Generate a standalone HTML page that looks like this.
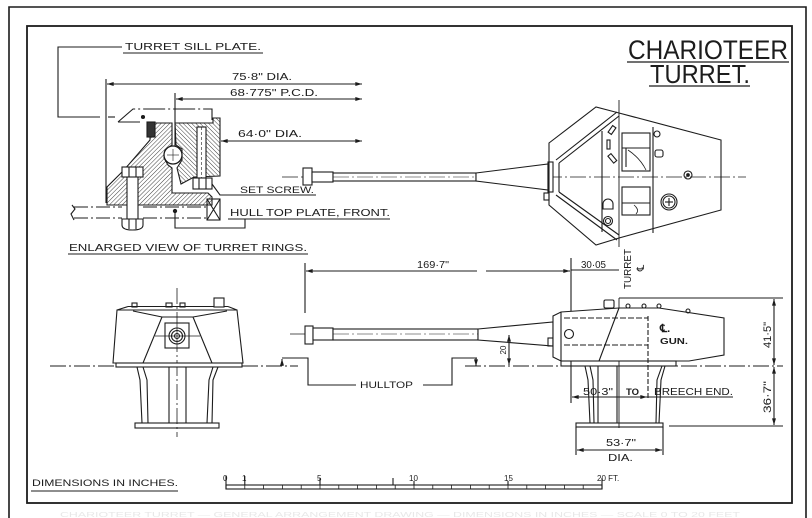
<!DOCTYPE html>
<html><head><meta charset="utf-8"><style>
html,body{margin:0;padding:0;background:#fff;}
svg{display:block;}
text{font-family:"Liberation Sans",sans-serif;fill:#1c1c1c;}
</style></head><body>
<svg width="812" height="518" viewBox="0 0 812 518" xmlns="http://www.w3.org/2000/svg">
<defs>
<marker id="a" viewBox="0 0 10 6" refX="10" refY="3" markerWidth="8" markerHeight="4" markerUnits="userSpaceOnUse" orient="auto-start-reverse"><path d="M0,0 L10,3 L0,6 z" fill="#1c1c1c"/></marker>
<pattern id="h" width="3" height="3" patternUnits="userSpaceOnUse" patternTransform="rotate(45)"><line x1="0" y1="0" x2="0" y2="3" stroke="#2a2a2a" stroke-width="0.9"/></pattern>
<pattern id="h2" width="3" height="3" patternUnits="userSpaceOnUse" patternTransform="rotate(-45)"><line x1="0" y1="0" x2="0" y2="3" stroke="#2a2a2a" stroke-width="0.9"/></pattern>
</defs>
<rect width="812" height="518" fill="#fff"/>
<g fill="none" stroke="#1c1c1c" stroke-width="1.1">
<!-- borders -->
<polyline points="9,520 9,7 806,7 806,520" stroke-width="1.6"/>
<rect x="27" y="26" width="765" height="477" stroke-width="1.8"/>

<!-- ===== Enlarged view of turret rings ===== -->
<polyline points="122,47 58,47 58,117 100,117"/>
<line x1="108" y1="117" x2="115" y2="117"/>
<polyline points="118,122 133,109 212,109 212,120" stroke-dasharray="22 3 2 3"/>
<line x1="118" y1="122" x2="140" y2="122"/>
<circle cx="143" cy="117" r="1.5" fill="#1c1c1c"/>
<line x1="106" y1="79" x2="106" y2="203"/>
<line x1="107" y1="84" x2="362" y2="84" marker-start="url(#a)" marker-end="url(#a)"/>
<line x1="175" y1="93" x2="175" y2="146"/>
<line x1="176" y1="99" x2="362" y2="99" marker-start="url(#a)" marker-end="url(#a)"/>
<line x1="221" y1="141" x2="362" y2="141" marker-start="url(#a)" marker-end="url(#a)"/>
<!-- lower ring -->
<polygon points="107,205 107,187 124,170 150,140 150,123 172,123 172,145 165,150 164,158 168,165 172,168 172,193 208,193 212,197 212,205" fill="url(#h)"/>
<rect x="147" y="122" width="8" height="15" fill="#333"/>
<!-- upper ring -->
<polygon points="175,123 213,123 213,118 220,118 220,176 194,177 181,184 177,168 182,160 182,149 176,145" fill="url(#h2)"/>
<rect x="197" y="127" width="9" height="51" fill="#fff"/>
<line x1="201.5" y1="127" x2="201.5" y2="178" stroke-dasharray="3 2" stroke-width="0.6"/>
<rect x="193" y="178" width="19" height="11" fill="#fff"/>
<line x1="199" y1="178" x2="199" y2="189"/><line x1="206" y1="178" x2="206" y2="189"/>
<polyline points="212,184 220,195 316,195" />
<!-- ball -->
<circle cx="173" cy="155" r="9" fill="#fff" stroke-width="1.3"/>
<line x1="167" y1="155" x2="179" y2="155" stroke-width="0.6"/><line x1="173" y1="149" x2="173" y2="161" stroke-width="0.6"/>
<!-- left bolt -->
<rect x="127" y="175" width="11" height="44" fill="#fff"/>
<rect x="122" y="167" width="21" height="10" fill="#fff"/>
<line x1="129" y1="167" x2="129" y2="177"/><line x1="136" y1="167" x2="136" y2="177"/>
<path d="M122,219 L143,219 L143,225 Q143,230 132.5,230 Q122,230 122,225 Z" fill="#fff"/>
<line x1="129" y1="219" x2="129" y2="229"/><line x1="136" y1="219" x2="136" y2="229"/>
<!-- hull plate -->
<line x1="74" y1="207" x2="122" y2="207" stroke-dasharray="14 3 2 3"/>
<line x1="143" y1="207" x2="207" y2="207" stroke-dasharray="14 3 2 3"/>
<line x1="74" y1="218" x2="122" y2="218" stroke-dasharray="14 3 2 3"/>
<line x1="143" y1="218" x2="207" y2="218" stroke-dasharray="14 3 2 3"/>
<polyline points="72,205 75,209 71,214 74,220"/>
<rect x="207" y="199" width="13" height="21"/>
<line x1="207" y1="199" x2="220" y2="220"/><line x1="220" y1="199" x2="207" y2="220"/>
<circle cx="175" cy="211" r="1.6" fill="#1c1c1c"/>
<polyline points="175,211 175,228 245,228 245,219"/>
<line x1="228" y1="219" x2="390" y2="219"/>
<line x1="68" y1="254" x2="308" y2="254"/>
<line x1="123" y1="53" x2="263" y2="53"/>

<!-- ===== Top view ===== -->
<line x1="282" y1="177" x2="746" y2="177" stroke-dasharray="16 3 2 3" stroke-width="0.7"/>
<rect x="303" y="168" width="9" height="17" fill="#fff"/>
<rect x="312" y="172" width="21" height="10" fill="#fff"/>
<rect x="333" y="173" width="143" height="8" fill="#fff"/>
<line x1="333" y1="177" x2="476" y2="177" stroke-dasharray="16 3 2 3" stroke-width="0.6"/>
<polygon points="476,173 548,164 548,190 476,181" fill="#fff"/>
<rect x="548" y="162" width="5" height="30" fill="#fff"/>
<rect x="544" y="193" width="5" height="7"/>
<!-- turret top outline -->
<polygon points="549,143 596,107 619,113 721,140 721,210 619,238 596,245 549,205"/>
<polyline points="559,163 619,116"/><polyline points="556,160 617,112"/>
<polyline points="559,192 619,235"/><polyline points="556,195 617,240"/>
<line x1="559" y1="163" x2="559" y2="192"/>
<line x1="619" y1="100" x2="619" y2="247" stroke-width="0.9"/>
<line x1="619" y1="298" x2="619" y2="428" stroke-width="0.9"/>
<line x1="602" y1="131" x2="602" y2="232"/>
<line x1="653" y1="127" x2="653" y2="233"/>
<rect x="622" y="133" width="28" height="38"/>
<line x1="622" y1="148" x2="650" y2="148"/><line x1="626" y1="148" x2="626" y2="167"/>
<path d="M628,150 Q640,158 646,170" stroke-width="0.8"/>
<rect x="622" y="187" width="28" height="28"/>
<line x1="622" y1="203" x2="650" y2="203"/>
<path d="M634,205 Q640,210 636,214" stroke-width="0.8"/>
<circle cx="657" cy="134" r="3"/>
<rect x="655" y="150" width="8" height="7" rx="2"/>
<circle cx="688" cy="175" r="4"/><circle cx="688" cy="175" r="1.3" fill="#1c1c1c"/>
<circle cx="669" cy="202" r="8"/><circle cx="669" cy="202" r="6"/>
<line x1="665" y1="202" x2="673" y2="202"/><line x1="669" y1="198" x2="669" y2="206"/>
<rect x="610" y="126" width="4" height="8" transform="rotate(35 612 130)"/>
<rect x="607" y="140" width="3" height="9"/>
<rect x="610" y="154" width="4" height="9" transform="rotate(-40 612 158)"/>
<path d="M603,209 L603,204 A5,5 0 0 1 613,204 L613,209 Z"/>
<circle cx="608" cy="221" r="4.5"/><circle cx="608" cy="221" r="2.5"/>

<!-- title underlines -->
<line x1="627" y1="62" x2="789" y2="62" stroke-width="1.2"/>
<line x1="649" y1="86" x2="750" y2="86" stroke-width="1.2"/>

<!-- ===== Side view ===== -->
<line x1="305" y1="263" x2="305" y2="313"/>
<line x1="306" y1="271" x2="477" y2="271" marker-start="url(#a)"/>
<line x1="486" y1="271" x2="570" y2="271" marker-end="url(#a)"/>
<line x1="571" y1="258" x2="571" y2="403"/>
<line x1="571" y1="270" x2="619" y2="270"/>
<line x1="290" y1="334" x2="700" y2="334" stroke-dasharray="16 3 2 3" stroke-width="0.7"/>
<rect x="305" y="326" width="8" height="18" fill="#fff"/>
<rect x="313" y="328" width="20" height="12" fill="#fff"/>
<rect x="333" y="329" width="145" height="11" fill="#fff"/>
<line x1="333" y1="334" x2="478" y2="334" stroke-dasharray="16 3 2 3" stroke-width="0.6"/>
<polygon points="478,329 553,322 553,346 478,340" fill="#fff"/>
<rect x="548" y="338" width="5" height="8"/>
<!-- turret body side -->
<polygon points="561,312 619,308 659,308 724,318 724,355 689,361 561,361 553,357 553,316" fill="#fff"/>
<line x1="561" y1="312" x2="561" y2="361"/>
<line x1="564" y1="318" x2="648" y2="318" stroke-dasharray="6 2"/>
<line x1="564" y1="345" x2="648" y2="345" stroke-dasharray="6 2"/>
<line x1="648" y1="316" x2="648" y2="400" stroke-dasharray="5 2"/>
<line x1="619" y1="308" x2="599" y2="361"/>
<circle cx="569" cy="334" r="4.5" fill="#fff"/>
<rect x="604" y="300" width="10" height="8" rx="1.5"/>
<circle cx="628" cy="306" r="2"/><circle cx="644" cy="306" r="2"/><circle cx="659" cy="306" r="2"/><circle cx="688" cy="311" r="2"/>
<rect x="561" y="361" width="115" height="5"/>
<!-- pedestal side -->
<polyline points="585,366 588,380 590,423"/><polyline points="590,366 593,380 594,423"/>
<line x1="598" y1="366" x2="598" y2="423"/><line x1="617" y1="366" x2="617" y2="423"/>
<polyline points="665,366 661,380 659,423"/><polyline points="662,366 657,380 656,423"/>
<rect x="576" y="423" width="87" height="4"/>
<!-- hull top & leaders -->
<line x1="50" y1="366" x2="298" y2="366" stroke-dasharray="16 3 2 3"/>
<line x1="465" y1="366" x2="783" y2="366" stroke-dasharray="16 3 2 3"/>
<line x1="282" y1="366" x2="282" y2="359" marker-end="url(#a)"/>
<polyline points="282,358 308,358 308,385 356,385"/>
<polyline points="423,385 452,385 452,358 477,358"/>
<line x1="476" y1="358" x2="476" y2="366" marker-end="url(#a)"/>
<line x1="509" y1="335" x2="509" y2="365" marker-start="url(#a)" marker-end="url(#a)"/>
<!-- right dims -->
<line x1="619" y1="298" x2="783" y2="298"/>
<line x1="669" y1="426" x2="783" y2="426"/>
<line x1="774" y1="299" x2="774" y2="365" marker-start="url(#a)" marker-end="url(#a)"/>
<line x1="774" y1="367" x2="774" y2="425" marker-start="url(#a)" marker-end="url(#a)"/>
<line x1="572" y1="397" x2="647" y2="397" marker-start="url(#a)" marker-end="url(#a)"/>
<line x1="647" y1="397" x2="733" y2="397"/>
<line x1="576" y1="427" x2="576" y2="455"/><line x1="663" y1="427" x2="663" y2="455"/>
<line x1="577" y1="450" x2="662" y2="450" marker-start="url(#a)" marker-end="url(#a)"/>

<!-- ===== Front view ===== -->
<line x1="177" y1="288" x2="177" y2="437" stroke-dasharray="16 3 2 3" stroke-width="0.8"/>
<polygon points="117,310 237,310 243,363 113,363"/>
<polyline points="133,311 162,317 143,363"/>
<polyline points="227,311 193,317 212,363"/>
<line x1="162" y1="317" x2="193" y2="317"/>
<rect x="165" y="323" width="24" height="25" fill="#fff"/>
<circle cx="177" cy="336" r="8"/><circle cx="177" cy="336" r="5.5"/><circle cx="177" cy="336" r="2.5"/>
<line x1="155" y1="336" x2="200" y2="336" stroke-width="0.7"/>
<line x1="177" y1="323" x2="177" y2="348" stroke-width="0.7"/>
<line x1="128" y1="306.5" x2="228" y2="306.5"/>
<line x1="128" y1="306.5" x2="117" y2="310"/><line x1="228" y1="306.5" x2="237" y2="310"/>
<rect x="132" y="303" width="5" height="4"/><rect x="166" y="303" width="6" height="4"/><rect x="180" y="303" width="5" height="4"/>
<rect x="214" y="298" width="10" height="9" fill="#fff"/>
<rect x="116" y="363" width="126" height="4" fill="#fff"/>
<polyline points="137,367 140,380 142,423"/><polyline points="143,367 147,380 148,423"/>
<polyline points="218,367 213,380 212,423"/><polyline points="213,367 209,380 207,423"/>
<line x1="169" y1="367" x2="169" y2="423"/><line x1="186" y1="367" x2="186" y2="423"/>
<rect x="135" y="423" width="84" height="5"/>

<!-- ===== Scale bar ===== -->
<rect x="226" y="485" width="376" height="4"/>
<g stroke-width="0.8">
<line x1="244.8" y1="485" x2="244.8" y2="489"/><line x1="263.6" y1="485" x2="263.6" y2="489"/><line x1="282.4" y1="485" x2="282.4" y2="489"/><line x1="301.2" y1="485" x2="301.2" y2="489"/><line x1="320" y1="485" x2="320" y2="489"/><line x1="338.8" y1="485" x2="338.8" y2="489"/><line x1="357.6" y1="485" x2="357.6" y2="489"/><line x1="376.4" y1="485" x2="376.4" y2="489"/><line x1="395.2" y1="485" x2="395.2" y2="489"/><line x1="414" y1="485" x2="414" y2="489"/><line x1="432.8" y1="485" x2="432.8" y2="489"/><line x1="451.6" y1="485" x2="451.6" y2="489"/><line x1="470.4" y1="485" x2="470.4" y2="489"/><line x1="489.2" y1="485" x2="489.2" y2="489"/><line x1="508" y1="485" x2="508" y2="489"/><line x1="526.8" y1="485" x2="526.8" y2="489"/><line x1="545.6" y1="485" x2="545.6" y2="489"/><line x1="564.4" y1="485" x2="564.4" y2="489"/><line x1="583.2" y1="485" x2="583.2" y2="489"/>
</g>
<line x1="226" y1="476" x2="226" y2="489"/><line x1="244.8" y1="476" x2="244.8" y2="485"/><line x1="320" y1="478" x2="320" y2="485"/><line x1="393" y1="478" x2="393" y2="485"/><line x1="414" y1="481" x2="414" y2="485"/><line x1="508" y1="481" x2="508" y2="485"/><line x1="602" y1="478" x2="602" y2="489"/>
<line x1="31" y1="491" x2="178" y2="491"/>
</g>

<!-- ===== TEXT ===== -->
<text x="125" y="50" font-size="10" textLength="136" lengthAdjust="spacingAndGlyphs">TURRET SILL PLATE.</text>
<text x="232" y="80" font-size="10" textLength="60" lengthAdjust="spacingAndGlyphs">75·8" DIA.</text>
<text x="230" y="96" font-size="10" textLength="88" lengthAdjust="spacingAndGlyphs">68·775" P.C.D.</text>
<text x="238" y="137" font-size="10" textLength="64" lengthAdjust="spacingAndGlyphs">64·0" DIA.</text>
<text x="240" y="193" font-size="9" textLength="74" lengthAdjust="spacingAndGlyphs">SET SCREW.</text>
<text x="230" y="216" font-size="10" textLength="160" lengthAdjust="spacingAndGlyphs">HULL TOP PLATE, FRONT.</text>
<text x="69" y="251" font-size="10" textLength="238" lengthAdjust="spacingAndGlyphs">ENLARGED VIEW OF TURRET RINGS.</text>
<text x="628" y="59" font-size="27" textLength="160" lengthAdjust="spacingAndGlyphs">CHARIOTEER</text>
<text x="650" y="83" font-size="26" textLength="100" lengthAdjust="spacingAndGlyphs">TURRET.</text>
<text x="417" y="268" font-size="10" textLength="32" lengthAdjust="spacingAndGlyphs">169·7"</text>
<text x="581" y="268" font-size="10" textLength="25" lengthAdjust="spacingAndGlyphs">30·05</text>
<text transform="translate(631,269) rotate(-90)" text-anchor="middle" font-size="10" textLength="40" lengthAdjust="spacingAndGlyphs">TURRET</text>
<text transform="translate(644,268) rotate(-90)" text-anchor="middle" font-family="DejaVu Sans, sans-serif" font-size="10">℄</text>
<text x="660" y="332" font-family="DejaVu Sans, sans-serif" font-size="11" font-weight="bold">℄.</text>
<text x="660" y="344" font-size="8" font-weight="bold" textLength="28" lengthAdjust="spacingAndGlyphs">GUN.</text>
<text transform="translate(771,335) rotate(-90)" text-anchor="middle" font-size="11" textLength="26" lengthAdjust="spacingAndGlyphs">41·5"</text>
<text transform="translate(771,397) rotate(-90)" text-anchor="middle" font-size="11" textLength="32" lengthAdjust="spacingAndGlyphs">36·7"</text>
<text transform="translate(506,350) rotate(-90)" text-anchor="middle" font-size="8">20</text>
<text x="583" y="395" font-size="10" textLength="30" lengthAdjust="spacingAndGlyphs">50·3"</text>
<text x="626" y="395" font-size="9" font-weight="bold" textLength="13" lengthAdjust="spacingAndGlyphs">TO</text>
<text x="654" y="395" font-size="10" textLength="79" lengthAdjust="spacingAndGlyphs">BREECH END.</text>
<text x="606" y="446" font-size="10" textLength="30" lengthAdjust="spacingAndGlyphs">53·7"</text>
<text x="608" y="461" font-size="10" textLength="25" lengthAdjust="spacingAndGlyphs">DIA.</text>
<text x="360" y="388" font-size="9" textLength="53" lengthAdjust="spacingAndGlyphs">HULLTOP</text>
<text x="32" y="486" font-size="9" textLength="146" lengthAdjust="spacingAndGlyphs">DIMENSIONS IN INCHES.</text>
<text x="223" y="481" font-size="8">0</text>
<text x="242" y="481" font-size="8">1</text>
<text x="317" y="481" font-size="8">5</text>
<text x="409" y="481" font-size="8">10</text>
<text x="504" y="481" font-size="8">15</text>
<text x="597" y="481" font-size="8">20 FT.</text>
<text x="60" y="517" font-size="7" style="fill:#e8e8e8" textLength="680" lengthAdjust="spacingAndGlyphs">CHARIOTEER TURRET — GENERAL ARRANGEMENT DRAWING — DIMENSIONS IN INCHES — SCALE 0 TO 20 FEET</text>
</svg>
</body></html>
